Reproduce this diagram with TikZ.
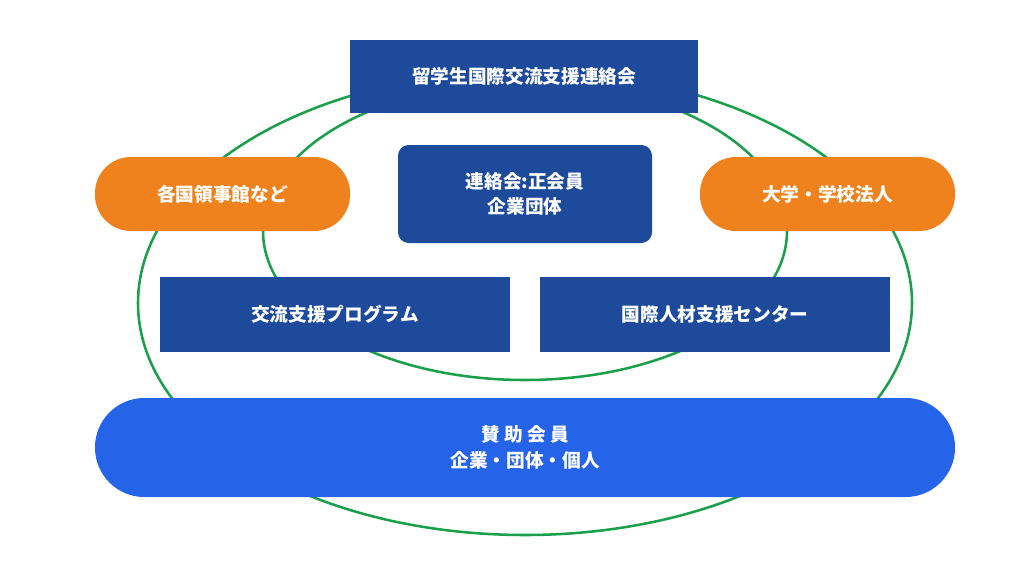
\documentclass[tikz,border=0pt]{standalone}
\usepackage{fontspec}
\setmainfont{Noto Sans CJK JP}
\begin{document}
\begin{tikzpicture}[x=0.75pt,y=-0.75pt,
  box/.style={fill=dblue,text=white,font=\bfseries\fontsize{14}{19}\selectfont,align=center,inner sep=0pt},
  ell/.style={draw=egreen,line width=1.9pt}]
\definecolor{dblue}{HTML}{1E4A9C}
\definecolor{orng}{HTML}{F0821E}
\definecolor{bblue}{HTML}{2563E8}
\definecolor{egreen}{HTML}{1A9F4A}
\useasboundingbox[fill=white] (0,0) rectangle (1015,582);
\draw[ell] (525,303) ellipse [x radius=387, y radius=232];
\draw[ell] (525,231) ellipse [x radius=262, y radius=149];
\node[box,minimum width=348*0.75pt,minimum height=73*0.75pt] (top) at (524,76.5) {留学生国際交流支援連絡会};
\node[box,rounded corners=8pt,minimum width=254*0.75pt,minimum height=98*0.75pt] (mid) at (525,194) {連絡会:正会員\\企業団体};
\node[box,fill=orng,rounded corners=27pt,minimum width=255*0.75pt,minimum height=74*0.75pt] (lo) at (222.5,194) {各国領事館など};
\node[box,fill=orng,rounded corners=27pt,minimum width=255*0.75pt,minimum height=74*0.75pt] (ro) at (827.5,194) {大学・学校法人};
\node[box,minimum width=350*0.75pt,minimum height=75*0.75pt] (lp) at (335,314.5) {交流支援プログラム};
\node[box,minimum width=350*0.75pt,minimum height=75*0.75pt] (rp) at (715,314.5) {国際人材支援センター};
\node[box,fill=bblue,rounded corners=37pt,minimum width=860*0.75pt,minimum height=99*0.75pt] (bot) at (525,447.5) {賛 助 会 員\\企業・団体・個人};
\end{tikzpicture}
\end{document}
